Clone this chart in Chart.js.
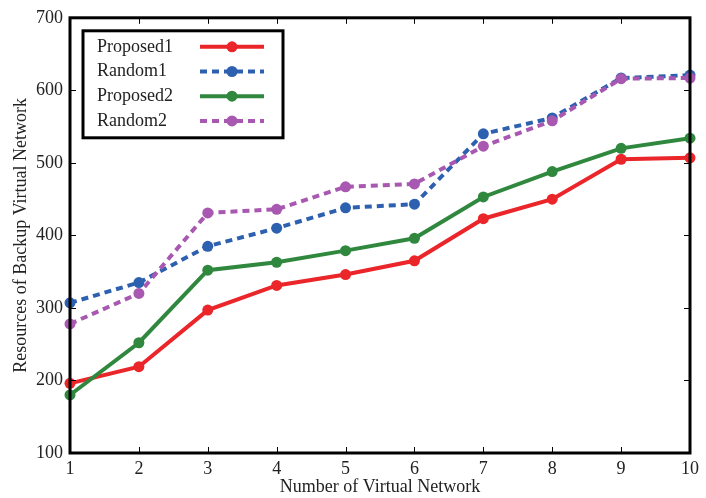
<!DOCTYPE html>
<html>

<head>
    <title>Resources of Backup Virtual Network</title>
    <script src="https://cdn.jsdelivr.net/npm/chart.js"></script>
    <style>
        body {
            margin: 0;
            padding: 0;
            background-color: #fff;
        }

        .wrapper {
            width: 706px;
            height: 498px;
        }
    </style>
</head>

<body>
    <div class="wrapper">
        <canvas id="backup-chart" width="706" height="498"></canvas>
    </div>

    <script>
        // data
        const networks = ['1', '2', '3', '4', '5', '6', '7', '8', '9', '10'];
        const proposed1 = [196, 219, 297, 331, 346, 365, 423, 450, 505, 507];
        const random1 = [307, 335, 385, 410, 438, 443, 540, 562, 617, 621];
        const proposed2 = [180, 252, 352, 363, 379, 396, 453, 488, 520, 534];
        const random2 = [278, 320, 431, 436, 467, 471, 523, 558, 616, 617];
        const yTicks = [100, 200, 300, 400, 500, 600, 700];

        const fontFamily = '"Liberation Serif", "DejaVu Serif", serif';

        function makeSet(label, data, color, dashed, order) {
            return {
                label: label,
                data: data,
                borderColor: color,
                backgroundColor: color,
                pointBackgroundColor: color,
                pointBorderColor: color,
                borderWidth: 4,
                borderDash: dashed ? [7, 5] : [],
                pointRadius: 5.5,
                pointBorderWidth: 0,
                pointHoverRadius: 5.5,
                tension: 0,
                fill: false,
                order: order
            };
        }

        // рамка, внутренние риски и легенда как в matplotlib
        const framePlugin = {
            id: 'frame',
            afterDatasetsDraw(chart) {
                const ctx = chart.ctx;
                const area = chart.chartArea;
                const xs = chart.scales.x;
                const ys = chart.scales.y;
                const tick = 6;

                ctx.save();
                ctx.strokeStyle = '#000';
                ctx.lineWidth = 1;
                ctx.beginPath();
                networks.forEach((n, i) => {
                    const px = Math.round(xs.getPixelForValue(i)) + 0.5;
                    ctx.moveTo(px, area.bottom);
                    ctx.lineTo(px, area.bottom - tick);
                    ctx.moveTo(px, area.top);
                    ctx.lineTo(px, area.top + tick);
                });
                yTicks.forEach(v => {
                    const py = Math.round(ys.getPixelForValue(v)) + 0.5;
                    ctx.moveTo(area.left, py);
                    ctx.lineTo(area.left + tick, py);
                    ctx.moveTo(area.right, py);
                    ctx.lineTo(area.right - tick, py);
                });
                ctx.stroke();

                ctx.lineWidth = 3;
                ctx.strokeRect(area.left, area.top, area.right - area.left, area.bottom - area.top);

                // legend box
                const bx = area.left + 13;
                const by = area.top + 13;
                const bw = 200;
                const bh = 107;
                ctx.fillStyle = '#fff';
                ctx.fillRect(bx, by, bw, bh);
                ctx.lineWidth = 3;
                ctx.strokeStyle = '#000';
                ctx.strokeRect(bx, by, bw, bh);

                ctx.font = '18px ' + fontFamily;
                ctx.textBaseline = 'middle';
                ctx.textAlign = 'left';
                chart.data.datasets.forEach((ds, i) => {
                    const cy = by + 16 + i * 24.7;
                    ctx.fillStyle = '#222';
                    ctx.fillText(ds.label, bx + 14, cy);

                    ctx.strokeStyle = ds.borderColor;
                    ctx.lineWidth = 4;
                    ctx.setLineDash(ds.borderDash);
                    ctx.beginPath();
                    ctx.moveTo(bx + 117, cy);
                    ctx.lineTo(bx + 181, cy);
                    ctx.stroke();
                    ctx.setLineDash([]);

                    ctx.fillStyle = ds.borderColor;
                    ctx.beginPath();
                    ctx.arc(bx + 149, cy, 5.5, 0, Math.PI * 2);
                    ctx.fill();
                });
                ctx.restore();
            }
        };

        const ctx = document.getElementById('backup-chart').getContext('2d');
        const chart = new Chart(ctx, {
            type: 'line',
            data: {
                labels: networks,
                datasets: [
                    makeSet('Proposed1', proposed1, 'rgb(234, 38, 42)', false, 4),
                    makeSet('Random1', random1, 'rgb(46, 96, 176)', true, 3),
                    makeSet('Proposed2', proposed2, 'rgb(48, 136, 62)', false, 2),
                    makeSet('Random2', random2, 'rgb(168, 88, 176)', true, 1)
                ]
            },
            options: {
                responsive: false,
                animation: false,
                clip: false,
                layout: {
                    padding: { top: 17, right: 16, left: 6, bottom: 0 }
                },
                plugins: {
                    legend: { display: false },
                    tooltip: { enabled: false }
                },
                scales: {
                    x: {
                        type: 'category',
                        offset: false,
                        grid: { display: false, drawTicks: false, tickLength: 0 },
                        border: { display: false },
                        ticks: {
                            color: '#222',
                            padding: 5,
                            maxRotation: 0,
                            font: { family: fontFamily, size: 18 }
                        },
                        title: {
                            display: true,
                            text: 'Number of Virtual Network',
                            color: '#222',
                            padding: { top: 0, bottom: 0 },
                            font: { family: fontFamily, size: 18 }
                        },
                        afterFit(scale) {
                            scale.height = 45;
                        }
                    },
                    y: {
                        min: 100,
                        max: 700,
                        grid: { display: false, drawTicks: false, tickLength: 0 },
                        border: { display: false },
                        ticks: {
                            stepSize: 100,
                            color: '#222',
                            padding: 7,
                            font: { family: fontFamily, size: 18 }
                        },
                        title: {
                            display: true,
                            text: 'Resources of Backup Virtual Network',
                            color: '#222',
                            padding: { top: 4, bottom: 4 },
                            font: { family: fontFamily, size: 18 }
                        },
                        afterFit(scale) {
                            scale.width = 64;
                        }
                    }
                }
            },
            plugins: [framePlugin]
        });
    </script>
</body>

</html>
